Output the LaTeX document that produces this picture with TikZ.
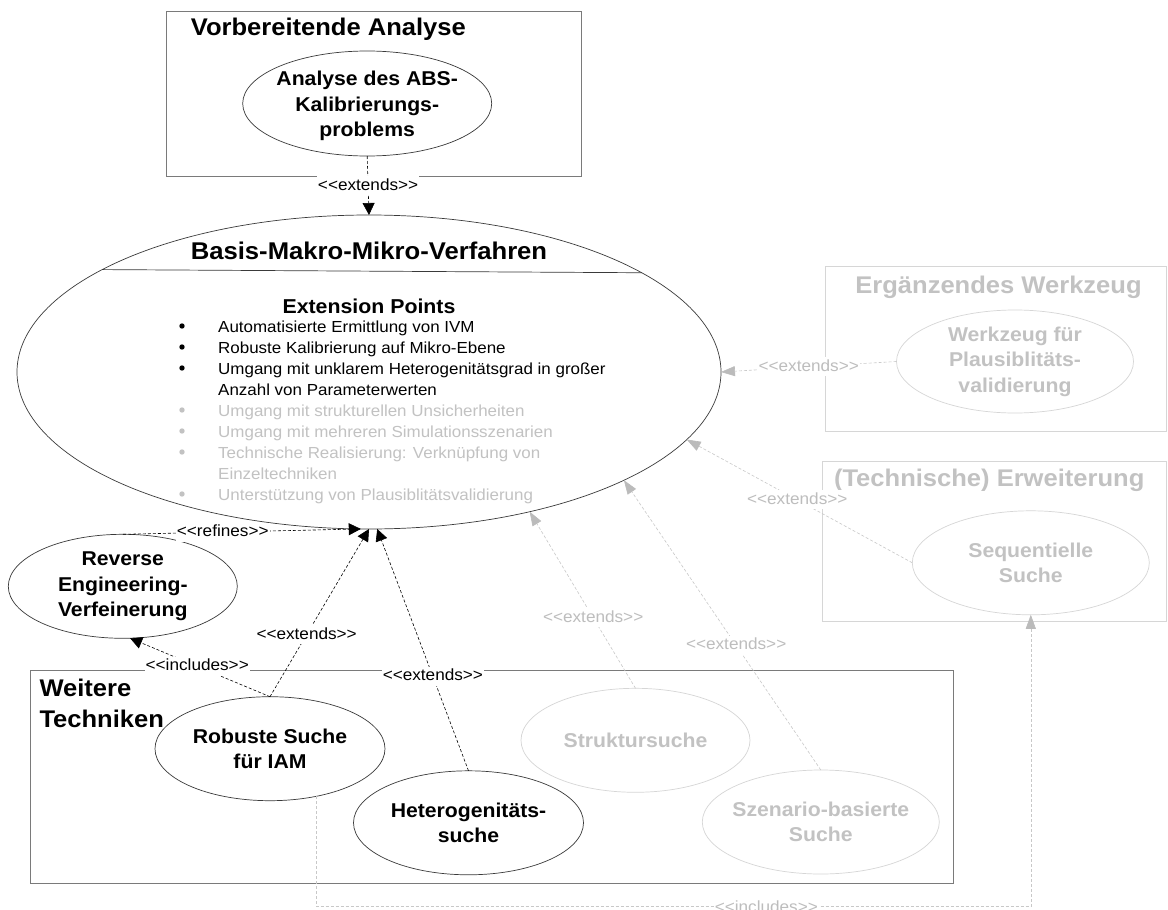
\documentclass[tikz,border=0pt]{standalone}
\usepackage{fontspec}
\setmainfont{Liberation Sans}[FakeStretch=1.06]
\usetikzlibrary{shapes.geometric,arrows.meta}
\definecolor{ellc}{HTML}{3A3A3A}
\definecolor{bxc}{HTML}{7A7A7A}
\definecolor{gline}{HTML}{D6D6D6}
\definecolor{gtext}{HTML}{C2C2C2}
\definecolor{gconc}{HTML}{C8C8C8}
\definecolor{garr}{HTML}{BBBBBB}
\definecolor{glabc}{HTML}{BDBDBD}
\newcommand\stereo[1]{<\kern0pt<#1>\kern0pt>}
\begin{document}
\begin{tikzpicture}[x=1pt,y=-1pt,
  ell/.style={ellipse, draw=ellc, line width=0.7pt, inner sep=0pt, outer sep=0pt},
  gell/.style={ellipse, draw=gline, line width=0.7pt, inner sep=0pt, outer sep=0pt},
  etext/.style={align=center, font=\bfseries\fontsize{20}{25.5}\selectfont, inner sep=0pt},
  getext/.style={etext, text=gtext},
  ttl/.style={font=\bfseries\fontsize{24.1}{29}\selectfont, inner sep=0pt},
  gttl/.style={ttl, text=gtext},
  item/.style={font=\fontsize{16}{21}\selectfont, inner sep=0pt, anchor=base west},
  gitem/.style={item, text=gtext},
  lab/.style={fill=white, font=\fontsize{16.2}{19}\selectfont, text height=12pt, text depth=3pt, inner xsep=1pt, inner ysep=2pt},
  glab/.style={lab, text=glabc},
  con/.style={draw=black, line width=0.6pt, dash pattern=on 3pt off 2pt, -{Triangle[length=12pt,width=12pt]}},
  gcon/.style={draw=gconc, line width=0.6pt, dash pattern=on 3pt off 2pt, -{Triangle[length=14pt,width=10pt,color=garr,fill=garr]}},
  bx/.style={draw=bxc, line width=0.8pt},
  gbx/.style={draw=gline, line width=0.8pt}
]
\fill[white] (0,0) rectangle (1168,910);
\useasboundingbox (0,0) rectangle (1168,910);

% boxes
\draw[bx] (166.7,11.7) rectangle (581,176.7);
\draw[gbx] (825,266.7) rectangle (1166,431);
\draw[gbx] (822.7,461.7) rectangle (1166,621);
\draw[bx] (30,670) rectangle (953.3,883.3);

% box titles
\node[ttl, anchor=base west] (t1) at (190.7,35) {Vorbereitende Analyse};
\node[gttl, anchor=base] (t2) at (998.5,293.3) {Ergänzendes Werkzeug};
\node[gttl, anchor=base] (t3) at (989.2,486.7) {(Technische) Erweiterung};
\node[ttl, anchor=base west] (t4a) at (39.3,696.7) {Weitere};
\node[ttl, anchor=base west] (t4b) at (39.3,727.3) {Techniken};

% ellipses
\node[ell, minimum width=249pt, minimum height=105pt] (abs) at (367.2,103.5) {};
\node[etext] (abst) at (367.2,106) {Analyse des ABS-\\Kalibrierungs-\\problems};

\node[ell, minimum width=704pt, minimum height=314pt] (big) at (369,372) {};
\draw[draw=ellc, line width=0.7pt] (big.20.25) -- (big.159.75);
\node[font=\bfseries\fontsize{24.2}{29}\selectfont, inner sep=0pt, anchor=base] (bigt) at (369,259) {Basis-Makro-Mikro-Verfahren};
\node[font=\bfseries\fontsize{20.1}{24}\selectfont, inner sep=0pt, anchor=base] (ept) at (369,313) {Extension Points};

\node[item] (l1) at (218,332) {Automatisierte Ermittlung von IVM};
\node[item] (l2) at (218,353) {Robuste Kalibrierung auf Mikro-Ebene};
\node[item] (l3) at (218,374) {Umgang mit unklarem Heterogenitätsgrad in großer};
\node[item] (l4) at (218,395) {Anzahl von Parameterwerten};
\node[gitem] (l5) at (218,416) {Umgang mit strukturellen Unsicherheiten};
\node[gitem] (l6) at (218,437) {Umgang mit mehreren Simulationsszenarien};
\node[gitem] (l7) at (218,458) {Technische Realisierung: Verknüpfung von};
\node[gitem] (l8) at (218,479) {Einzeltechniken};
\node[gitem] (l9) at (218,500) {Unterstützung von Plausiblitätsvalidierung};
\foreach \yy in {332,353,374} \fill[black] (182,\yy-6) circle (2.7);
\foreach \yy in {416,437,458,500} \fill[gtext] (182,\yy-6) circle (2.7);

\node[gell, minimum width=237pt, minimum height=103pt] (wz) at (1015,361.5) {};
\node[getext] (wzt) at (wz) {Werkzeug für\\Plausiblitäts-\\validierung};

\node[gell, minimum width=237pt, minimum height=104pt] (seq) at (1030.8,562.8) {};
\node[getext] (seqt) at (seq) {Sequentielle\\Suche};

\node[ell, minimum width=229pt, minimum height=104pt] (rev) at (122.8,586.3) {};
\node[etext] (revt) at (rev) {Reverse\\Engineering-\\Verfeinerung};

\node[ell, minimum width=230pt, minimum height=104pt] (rob) at (270,748.7) {};
\node[etext] (robt) at (rob) {Robuste Suche\\für IAM};

\node[ell, minimum width=230pt, minimum height=104pt] (het) at (468.5,822.8) {};
\node[etext] (hett) at (het) {Heterogenitäts-\\suche};

\node[gell, minimum width=229pt, minimum height=104pt] (struk) at (635.5,740.3) {};
\node[getext] (strukt) at (struk) {Struktursuche};

\node[gell, minimum width=237pt, minimum height=104pt] (sz) at (820.8,822) {};
\node[getext] (szt) at (sz) {Szenario-basierte\\Suche};

% connectors
\coordinate (bend) at (316,906.7);
\draw[gcon] (rob.-46) -- (rob.-46 |- bend) -| node[glab,pos=0.315,yshift=-1pt] (lb) {\stereo{includes}} (seq.south);
\draw[gcon] (struk.north) -- node[glab,pos=0.4] (lst) {\stereo{extends}} (big.-41);
\draw[gcon] (sz.north) -- node[glab,pos=0.43] (lsz) {\stereo{extends}} (big.-23);
\draw[gcon] (seq.west) -- node[glab,pos=0.51] (lseq) {\stereo{extends}} (big.-12);
\draw[gcon] (wz.west) -- node[glab,pos=0.5] (lwz) {\stereo{extends}} (big.east);

\draw[con] (abs.south) -- node[lab,pos=0.5] (labs) {\stereo{extends}} (big.north);
\draw[con] (rev.north) -- node[lab,pos=0.42] (lref) {\stereo{refines}} (big.-93);
\draw[con] (rob.north) -- node[lab,pos=0.37] (lrob) {\stereo{extends}} (big.-90);
\draw[con] (rob.north) -- node[lab,pos=0.52] (linc) {\stereo{includes}} (rev.-82);
\draw[con] (het.north) -- node[lab,pos=0.39] (lhet) {\stereo{extends}} (big.-87);
\end{tikzpicture}
\end{document}
